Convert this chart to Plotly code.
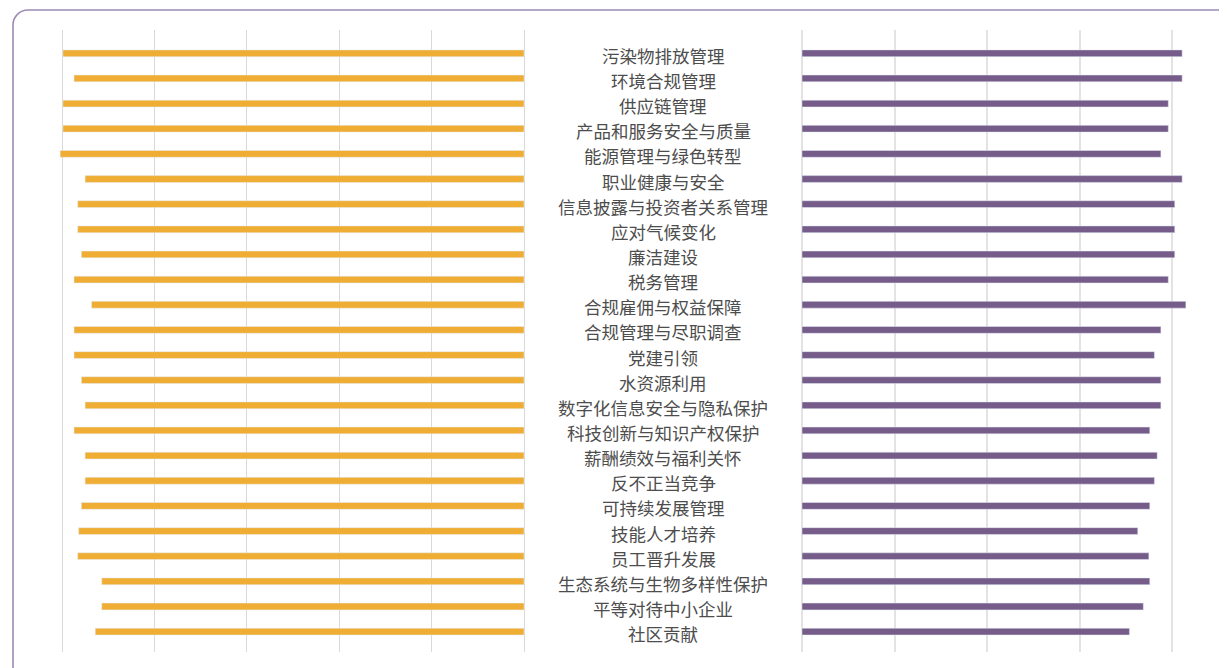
#Butterfly chart: importance scores per ESG topic, two sides with labels in the middle.

import plotly.graph_objects as go

OFF = 8   # the page body margin shifts the figure by 8px
W, H = 1227 - OFF, 668 - OFF

topics = ["污染物排放管理", "环境合规管理", "供应链管理", "产品和服务安全与质量", "能源管理与绿色转型",
          "职业健康与安全", "信息披露与投资者关系管理", "应对气候变化", "廉洁建设", "税务管理",
          "合规雇佣与权益保障", "合规管理与尽职调查", "党建引领", "水资源利用", "数字化信息安全与隐私保护",
          "科技创新与知识产权保护", "薪酬绩效与福利关怀", "反不正当竞争", "可持续发展管理", "技能人才培养",
          "员工晋升发展", "生态系统与生物多样性保护", "平等对待中小企业", "社区贡献"]

left_vals = [4.99, 4.87, 4.99, 4.99, 5.02, 4.75, 4.83, 4.83, 4.79, 4.87,
             4.68, 4.87, 4.87, 4.79, 4.75, 4.87, 4.75, 4.75, 4.79, 4.82,
             4.83, 4.57, 4.57, 4.64]

right_vals = [4.11, 4.11, 3.96, 3.96, 3.88, 4.11, 4.03, 4.03, 4.03, 3.96,
              4.15, 3.88, 3.81, 3.88, 3.88, 3.76, 3.84, 3.81, 3.76, 3.63,
              3.75, 3.76, 3.69, 3.54]

ORANGE = "#EFAE33"
PURPLE = "#765C89"
FRAME = "#9D8BB5"

# pixel helpers: page pixel -> paper fraction (figure has no margins)
def px(x):
    return (x - OFF) / W

def py(y):
    return 1 - (y - OFF) / H

unit_l = 92.4   # px per unit, left side
unit_r = 92.5   # px per unit, right side

fig = go.Figure()
fig.add_trace(go.Bar(y=topics, x=left_vals, orientation="h", marker_color=ORANGE,
                     width=0.27, xaxis="x", yaxis="y", hoverinfo="x+y"))
fig.add_trace(go.Bar(y=topics, x=right_vals, orientation="h", marker_color=PURPLE,
                     width=0.27, xaxis="x2", yaxis="y", hoverinfo="x+y"))

for i, t in enumerate(topics):
    fig.add_annotation(x=px(663), y=t, xref="paper", yref="y", text=t, showarrow=False,
                       xanchor="center", yshift=-2,
                       font=dict(family="Noto Sans CJK SC", size=17.5, color="#4D4D4D"))

# rounded frame (top-left corner visible, runs off the page to the right and bottom)
x0, yt, r = 13, 10, 15
k = 0.55 * r
path = ("M {a},{b} L {a},{c} C {a},{d} {e},{f} {g},{f} L {h},{f}".format(
    a=px(x0), b=py(680), c=py(yt + r), d=py(yt + r - k), e=px(x0 + r - k),
    f=py(yt), g=px(x0 + r), h=px(1240)))
fig.add_shape(type="path", path=path, xref="paper", yref="paper",
              line=dict(color=FRAME, width=1.6))

fig.update_layout(
    width=W, height=H,
    margin=dict(l=0, r=0, t=0, b=0),
    paper_bgcolor="white", plot_bgcolor="white",
    showlegend=False,
    xaxis=dict(domain=[px(50), px(526)], range=[(524 - 50) / unit_l, -2 / unit_l],
               tick0=0, dtick=1, showgrid=True, gridcolor="#D9D9D9", gridwidth=1.3,
               zeroline=True, zerolinecolor="#D9D9D9", zerolinewidth=1.3,
               showticklabels=False, ticks="", showline=False, fixedrange=True),
    xaxis2=dict(domain=[px(800), px(1218)], range=[-2 / unit_r, (1218 - 802) / unit_r],
                tick0=0, dtick=1, showgrid=True, gridcolor="#E3E3E3", gridwidth=1.6,
                zeroline=True, zerolinecolor="#E3E3E3", zerolinewidth=1.6,
                showticklabels=False, ticks="", showline=False, anchor="y", fixedrange=True),
    yaxis=dict(domain=[py(652), py(30)], range=[23.81, -0.926], type="category",
               showgrid=False, zeroline=False, showticklabels=False, ticks="", showline=False,
               fixedrange=True),
)

fig.write_html("out.html")
